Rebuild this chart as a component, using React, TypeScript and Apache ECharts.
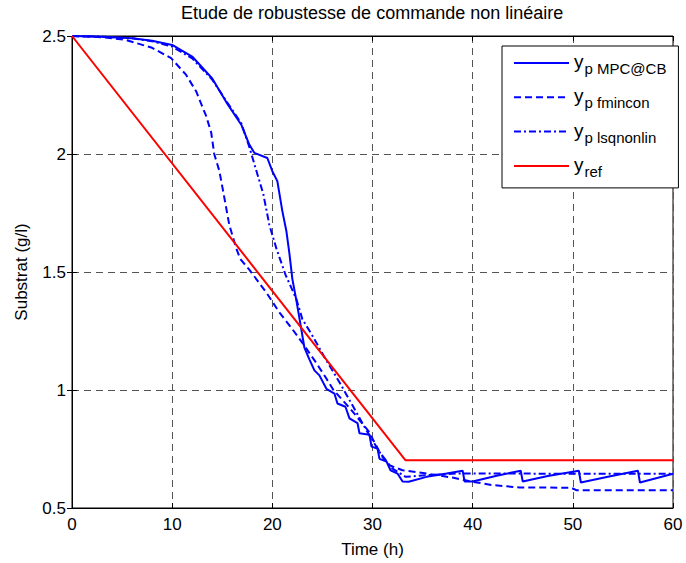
import React, { useEffect, useRef } from "react";
import * as echarts from "echarts";

// ---- data ----
const mpcT = [0, 3, 6, 8, 10, 12, 14, 15.4, 16.9, 17.7, 18.2, 19.5, 20.0, 20.5, 21.0, 21.4, 21.7, 22.0, 22.4, 22.8, 23.2, 23.7, 24.2, 24.7, 25.4, 26.2, 26.5, 27.3, 27.7, 28.5, 28.7, 29.7, 29.9, 30.5, 30.7, 31.4, 31.8, 32.5, 33.0, 33.6, 35.4, 37.4, 39.0, 39.2, 40.0, 42.5, 44.8, 45.0, 47.5, 50.6, 50.8, 53.5, 56.5, 56.7, 58.5, 60];
const mpcY = [2.5, 2.497, 2.49, 2.48, 2.462, 2.413, 2.32, 2.22, 2.124, 2.04, 2.005, 1.983, 1.927, 1.885, 1.758, 1.674, 1.58, 1.47, 1.38, 1.28, 1.18, 1.13, 1.083, 1.062, 1.005, 0.985, 0.943, 0.929, 0.88, 0.86, 0.817, 0.81, 0.76, 0.752, 0.708, 0.697, 0.66, 0.646, 0.612, 0.611, 0.632, 0.646, 0.658, 0.612, 0.612, 0.638, 0.658, 0.612, 0.636, 0.658, 0.608, 0.632, 0.658, 0.608, 0.628, 0.645];

const fminT = [0, 3, 5.4, 8, 9.9, 11.4, 12.4, 13.4, 13.9, 14.2, 14.7, 15.1, 15.7, 16.4, 16.8, 17.7, 19.4, 20.7, 22.0, 23.0, 24.3, 25.3, 26.1, 27.8, 28.6, 29.6, 30.3, 30.7, 31.7, 33.0, 35.4, 38.1, 40, 42, 44.7, 49.8, 50.4, 60];
const fminY = [2.5, 2.495, 2.483, 2.45, 2.406, 2.335, 2.265, 2.16, 2.09, 2.0, 1.93, 1.84, 1.7, 1.6, 1.555, 1.51, 1.413, 1.329, 1.258, 1.2, 1.12, 1.055, 1.0, 0.92, 0.878, 0.826, 0.77, 0.738, 0.681, 0.66, 0.646, 0.628, 0.611, 0.597, 0.587, 0.586, 0.575, 0.575];

const lsqT = [0, 3, 6, 8, 10, 12, 14, 15.4, 16.9, 17.7, 18.4, 19.1, 19.7, 20.4, 21.3, 22.4, 23.0, 24.0, 25.3, 26.7, 28.0, 29.3, 30.0, 31.0, 32.0, 33.3, 35.4, 38.4, 60];
const lsqY = [2.5, 2.497, 2.49, 2.478, 2.455, 2.405, 2.315, 2.225, 2.13, 2.03, 1.93, 1.83, 1.7, 1.6, 1.49, 1.385, 1.3, 1.23, 1.132, 1.033, 0.935, 0.836, 0.787, 0.716, 0.667, 0.632, 0.639, 0.646, 0.645];

const refT = [0, 33.3, 60];
const refY = [2.5, 0.702, 0.702];

const seriesNames = ["y_p MPC@CB", "y_p fmincon", "y_p lsqnonlin", "y_ref"];
const legendSubs = ["p MPC@CB", "p fmincon", "p lsqnonlin", "ref"];

const titleText = "Etude de robustesse de commande non linéaire";
const xName = "Time (h)";
const yName = "Substrat (g/l)";

const FONT = "'Liberation Sans', Arial, Helvetica, sans-serif";

function zip(t: number[], v: number[]) {
  return t.map((x, i) => [x, v[i]]);
}

export default function App() {
  const ref = useRef<HTMLDivElement>(null);
  useEffect(() => {
    if (!ref.current) return;
    const chart = echarts.init(ref.current, undefined, { renderer: "svg" });
    const axisCommon = {
      axisLine: { show: true, lineStyle: { color: "#000", width: 1 } },
      axisTick: { show: true, inside: true, length: 5, lineStyle: { color: "#000" } },
    };
    const gridLine = { show: true, lineStyle: { color: "#555", width: 1, type: [7, 5] as any } };
    const mk = (name: string, data: number[][], color: string, type: any) => ({
      name,
      type: "line",
      data,
      symbol: "none",
      showSymbol: false,
      lineStyle: { color, width: 2, type },
      itemStyle: { color },
      xAxisIndex: 0,
      yAxisIndex: 0,
    });
    chart.setOption({
      animation: false,
      backgroundColor: "#fff",
      textStyle: { fontFamily: FONT },
      title: {
        text: titleText,
        left: 181,
        top: 4,
        padding: 0,
        textStyle: { fontFamily: FONT, fontSize: 18, fontWeight: "normal", color: "#000" },
      },
      grid: { left: 72, right: 13, top: 36, bottom: 53, show: true, borderColor: "#000", borderWidth: 1 },
      xAxis: [
        {
          type: "value",
          min: 0,
          max: 60,
          interval: 10,
          name: xName,
          nameLocation: "middle",
          nameGap: 33,
          nameTextStyle: { fontFamily: FONT, fontSize: 17, color: "#000" },
          axisLabel: { fontFamily: FONT, fontSize: 17, color: "#000", margin: 8 },
          splitLine: gridLine,
          ...axisCommon,
        },
        {
          type: "value",
          position: "top",
          min: 0,
          max: 60,
          interval: 10,
          axisLabel: { show: false },
          splitLine: { show: false },
          ...axisCommon,
        },
      ],
      yAxis: [
        {
          type: "value",
          min: 0.5,
          max: 2.5,
          interval: 0.5,
          name: yName,
          nameLocation: "middle",
          nameGap: 42,
          nameTextStyle: { fontFamily: FONT, fontSize: 17, color: "#000" },
          axisLabel: { fontFamily: FONT, fontSize: 17, color: "#000", margin: 6 },
          splitLine: gridLine,
          ...axisCommon,
        },
        {
          type: "value",
          position: "right",
          min: 0.5,
          max: 2.5,
          interval: 0.5,
          axisLabel: { show: false },
          splitLine: { show: false },
          ...axisCommon,
        },
      ],
      legend: {
        orient: "vertical",
        left: 502,
        top: 46,
        padding: [6, 12, 9, 11],
        itemGap: 10.3,
        itemWidth: 55,
        itemHeight: 14,
        borderColor: "#000",
        borderWidth: 1,
        backgroundColor: "#fff",
        itemStyle: { opacity: 0 },
        data: seriesNames,
        formatter: (name: string) => {
          const i = seriesNames.indexOf(name);
          return `{y|y}{s|${legendSubs[i]}}`;
        },
        textStyle: {
          fontFamily: FONT,
          color: "#000",
          rich: {
            y: { fontFamily: FONT, fontSize: 19, lineHeight: 22, verticalAlign: "top", color: "#000" },
            s: { fontFamily: FONT, fontSize: 15, lineHeight: 18, padding: [9, 0, 0, 1], verticalAlign: "top", color: "#000" },
          },
        },
      },
      series: [
        mk(seriesNames[0], zip(mpcT, mpcY), "#0000ff", "solid"),
        mk(seriesNames[1], zip(fminT, fminY), "#0000ff", [7, 4]),
        mk(seriesNames[2], zip(lsqT, lsqY), "#0000ff", [7, 3, 2, 3]),
        mk(seriesNames[3], zip(refT, refY), "#ff0000", "solid"),
      ],
    });
    return () => chart.dispose();
  }, []);
  return (
    <div
      ref={ref}
      style={{ position: "absolute", left: 0, top: 0, width: 686, height: 563, background: "#fff" }}
    />
  );
}
